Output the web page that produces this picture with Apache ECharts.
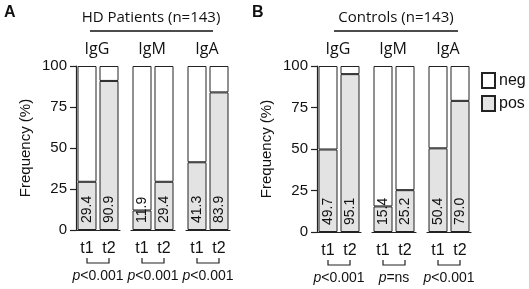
<!DOCTYPE html>
<html>
<head>
<meta charset="utf-8">
<script src="https://cdn.jsdelivr.net/npm/echarts@6/dist/echarts.min.js"></script>
<style>
  html, body { margin: 0; padding: 0; background: #fff; }
  #chart { width: 529px; height: 289px; }
</style>
</head>
<body>
<div id="chart"></div>
<script>
var groups = ['IgG', 'IgM', 'IgA']
var times = ['t1', 't2']
// percent positive at t1 / t2
var hdPos = [[29.4, 90.9], [11.9, 29.4], [41.3, 83.9]]
var ctrlPos = [[49.7, 95.1], [15.4, 25.2], [50.4, 79.0]]
var hdP = ['<0.001', '<0.001', '<0.001']
var ctrlP = ['<0.001', '=ns', '<0.001']
var yTicks = [0, 25, 50, 75, 100]

var ink = '#222'
var grayFill = '#e3e3e3'
var numFont = 'Liberation Sans'
var headFont = 'Open Sans'

var panels = [
  { letter: 'A', title: 'HD Patients (n=143)', pos: hdPos, p: hdP, lefts: [76, 131, 186], top: 66, height: 164, letterX: 4, titleX: 151, lineX: [90, 213] },
  { letter: 'B', title: 'Controls (n=143)', pos: ctrlPos, p: ctrlP, lefts: [317, 372, 427], top: 66, height: 166, letterX: 252, titleX: 396, lineX: [334, 458] }
]

var chart = echarts.init(document.getElementById('chart'))

var grid = []
var xAxis = []
var yAxis = []
var series = []
var gi = 0
panels.forEach(function(pn) {
  groups.forEach(function(g, k) {
    grid.push({ left: pn.lefts[k], top: pn.top, width: 44, height: pn.height })
    xAxis.push({
      type: 'category',
      gridIndex: gi,
      data: times,
      offset: 8,
      axisLine: { lineStyle: { color: ink, width: 1.2 } },
      axisTick: { alignWithLabel: true, length: 5, lineStyle: { color: ink, width: 1.2 } },
      axisLabel: { fontFamily: numFont, fontSize: 16, color: '#111', margin: 3 }
    })
    var first = k === 0
    yAxis.push({
      type: 'value',
      gridIndex: gi,
      min: 0,
      max: 100,
      interval: 25,
      show: first,
      name: first ? 'Frequency (%)' : '',
      nameLocation: 'middle',
      nameGap: 43,
      nameTextStyle: { fontFamily: numFont, fontSize: 15, color: '#111' },
      splitLine: { show: false },
      axisLine: { show: true, lineStyle: { color: ink, width: 1.2 } },
      axisTick: { show: true, length: 6, lineStyle: { color: ink, width: 1.2 } },
      axisLabel: {
        fontFamily: numFont, fontSize: 15, color: '#111', margin: 9,
        formatter: function(v) { return yTicks.indexOf(v) >= 0 ? String(v) : '' }
      }
    })
    var pos = pn.pos[k]
    series.push({
      name: 'pos',
      type: 'bar',
      stack: 's' + gi,
      xAxisIndex: gi,
      yAxisIndex: gi,
      barWidth: 19,
      itemStyle: { color: grayFill, borderColor: ink, borderWidth: 1 },
      label: {
        show: true,
        position: 'insideBottom',
        rotate: 90,
        align: 'left',
        verticalAlign: 'middle',
        distance: 7,
        fontFamily: numFont,
        fontSize: 14,
        color: '#111',
        formatter: function(p) { return p.value.toFixed(1) }
      },
      data: pos
    })
    series.push({
      name: 'neg',
      type: 'bar',
      stack: 's' + gi,
      xAxisIndex: gi,
      yAxisIndex: gi,
      barWidth: 19,
      itemStyle: { color: '#fff', borderColor: ink, borderWidth: 1 },
      data: pos.map(function(v) { return +(100 - v).toFixed(1) })
    })
    gi++
  })
})

chart.setOption({
  animation: false,
  legend: {
    data: ['neg', 'pos'],
    orient: 'vertical',
    left: 476,
    top: 67,
    icon: 'rect',
    itemWidth: 13,
    itemHeight: 15,
    itemGap: 6,
    textStyle: { fontFamily: numFont, fontSize: 16, color: '#111', padding: [0, 0, 0, -1] }
  },
  grid: grid,
  xAxis: xAxis,
  yAxis: yAxis,
  series: series
})

// annotations: titles, group names, brackets and p values, placed from the axes
var graphic = []
gi = 0
panels.forEach(function(pn) {
  graphic.push({ type: 'text', left: pn.letterX, top: 5, style: { text: pn.letter, font: 'bold 16px ' + numFont, fill: '#111' } })
  graphic.push({ type: 'text', x: pn.titleX, y: 18, style: { text: pn.title, font: '15px "' + headFont + '"', fill: '#111', textAlign: 'center', textVerticalAlign: 'middle' } })
  graphic.push({ type: 'line', shape: { x1: pn.lineX[0], y1: 31, x2: pn.lineX[1], y2: 31 }, style: { stroke: '#111', lineWidth: 1.5 } })
  groups.forEach(function(g, k) {
    var x1 = chart.convertToPixel({ xAxisIndex: gi }, times[0])
    var x2 = chart.convertToPixel({ xAxisIndex: gi }, times[1])
    var y0 = chart.convertToPixel({ yAxisIndex: gi }, 0)
    var cx = (x1 + x2) / 2
    graphic.push({ type: 'text', x: cx - 1, y: 49, style: { text: g, font: '16px "' + headFont + '"', fill: '#111', textAlign: 'center', textVerticalAlign: 'middle' } })
    var by = y0 + 33
    graphic.push({
      type: 'polyline',
      shape: { points: [[x1, by - 5], [x1, by], [x2, by], [x2, by - 5]] },
      style: { stroke: ink, lineWidth: 1.2, fill: null }
    })
    graphic.push({
      type: 'text', x: cx, y: by + 13,
      style: {
        text: '{i|p}{n|' + pn.p[k] + '}',
        textAlign: 'center', textVerticalAlign: 'middle',
        font: '14px ' + numFont, fill: '#111',
        rich: {
          i: { fontStyle: 'italic', fontFamily: numFont, fontSize: 14 },
          n: { fontFamily: numFont, fontSize: 14 }
        }
      }
    })
    gi++
  })
})
chart.setOption({ graphic: graphic })
</script>
</body>
</html>
